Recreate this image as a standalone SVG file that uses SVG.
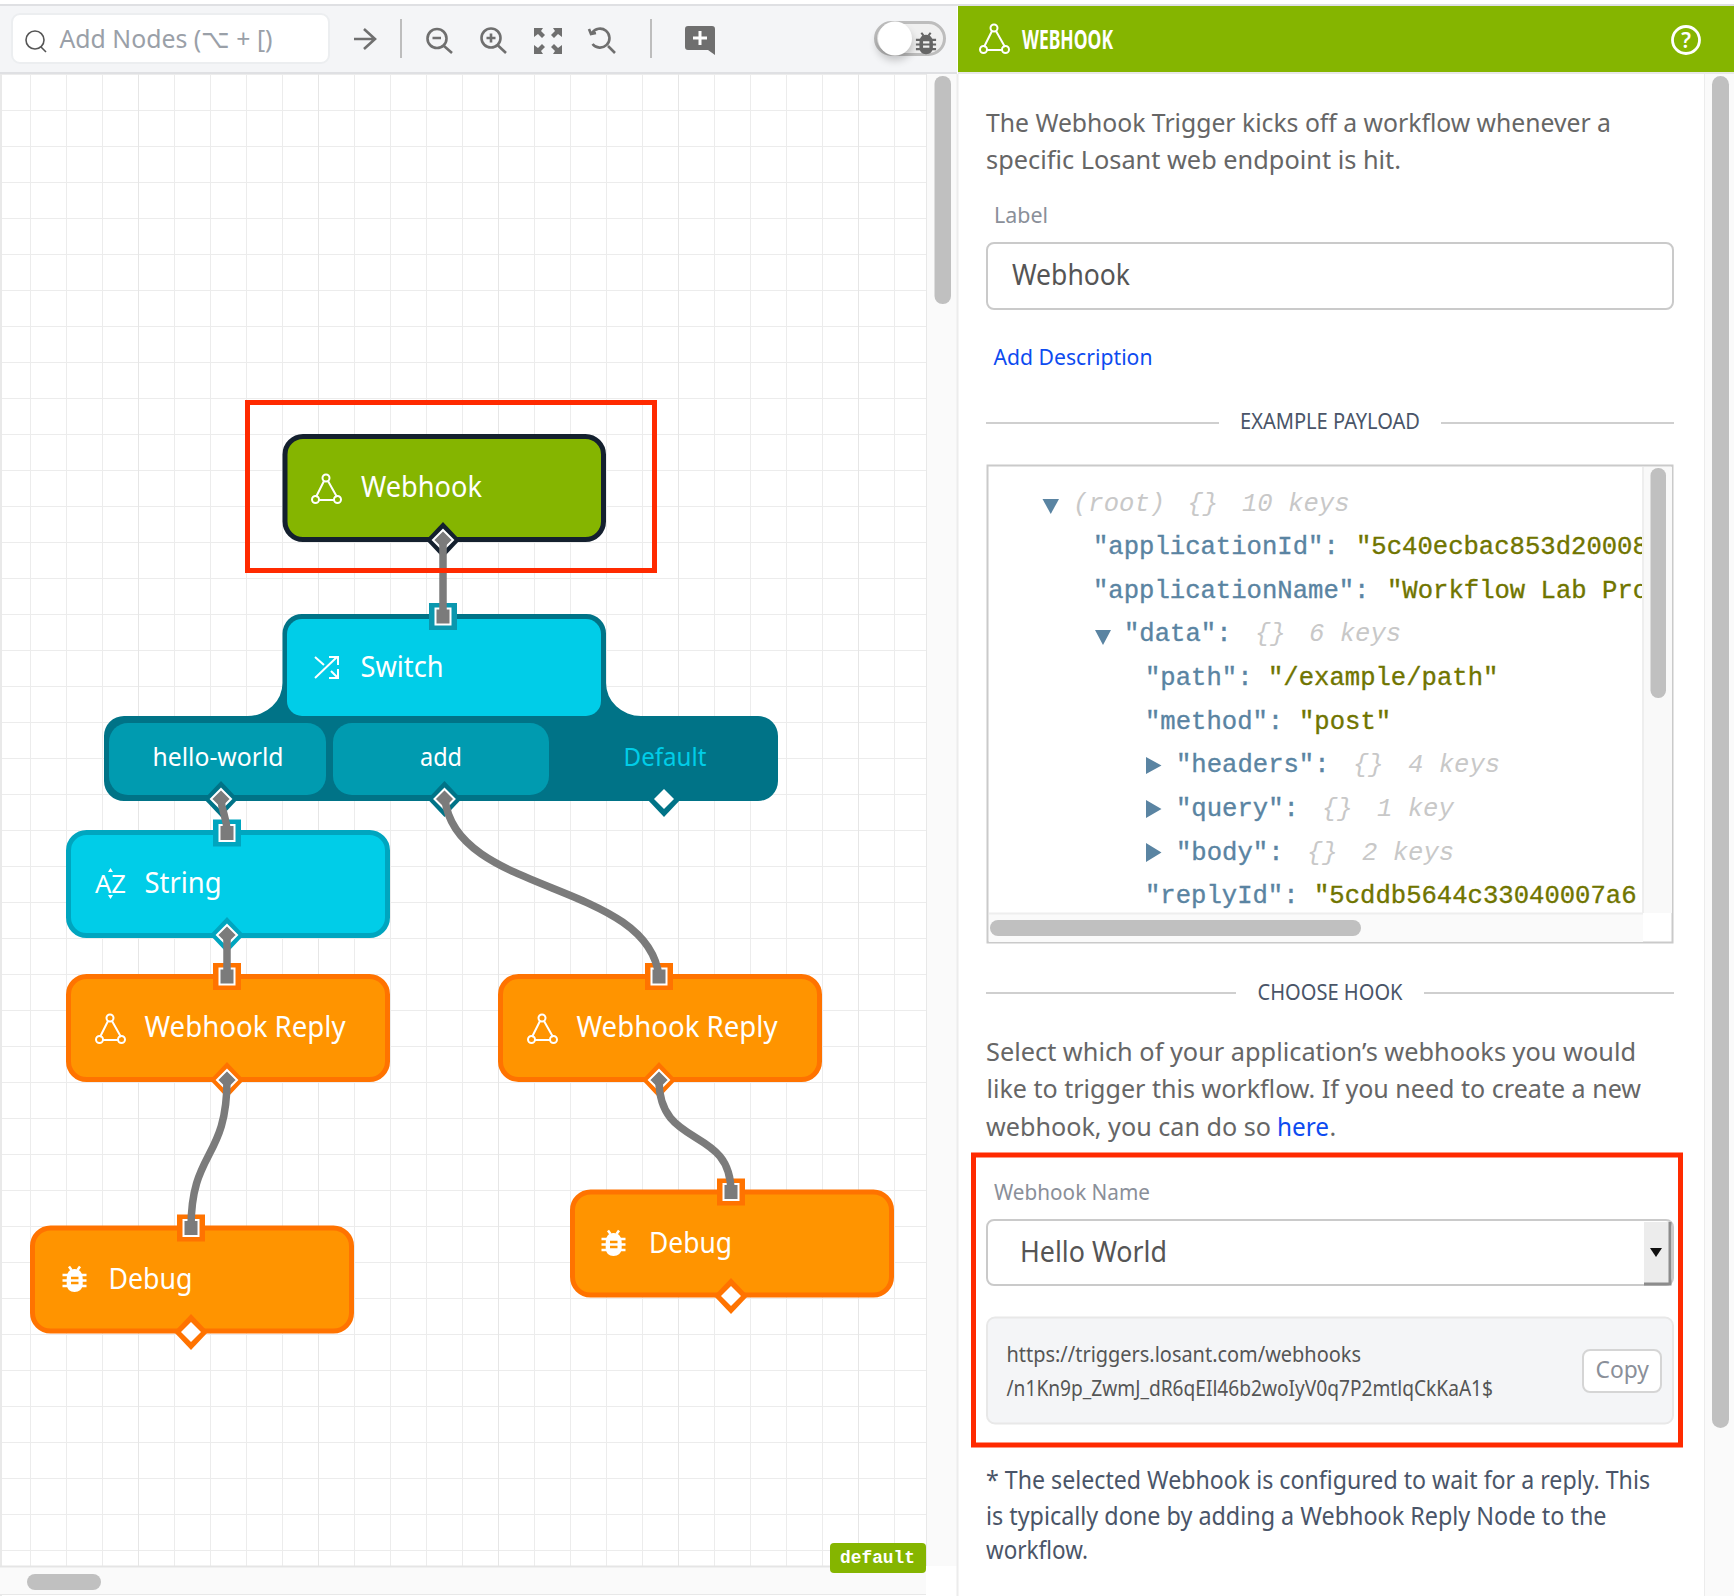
<svg xmlns="http://www.w3.org/2000/svg" xmlns:xlink="http://www.w3.org/1999/xlink" width="1734" height="1596" viewBox="0 0 1734 1596">
<style>
text{font-family:"Noto Sans","Open Sans",sans-serif}
.n{font-size:29px;fill:#fff}
.tab{font-size:25px;fill:#fff;text-anchor:middle}
.body{font-size:25px;fill:#666}
.foot{font-size:25px;fill:#4a5568}
.head{font-size:22.5px;fill:#4a5568}
.lab{font-size:22.5px;fill:#8a8f99}
.val{font-size:29px;fill:#555}
.url{font-size:21.5px;fill:#555}
.link{fill:#0d4bf0}
.rule{stroke:#cfcfcf;stroke-width:2}
.j{font-family:"Liberation Mono",monospace;font-size:25.6px;white-space:pre;stroke-width:.35px}
.k{fill:#5a84a2;stroke:#5a84a2}.v{fill:#707500;stroke:#707500}.m{fill:#c8c8c8;font-style:italic}
.tri{fill:#5a84a2}
.sb{fill:#c0c0c0}
.ic{fill:none;stroke:#6f6f6f;stroke-width:2.6}
.w{fill:none;stroke:#fff;stroke-width:2}
.conn{fill:none;stroke:#7b7b7b;stroke-width:7.5}
.portIn{fill:#7b7b7b;stroke:#fff;stroke-width:2}
.portOut{fill:#7b7b7b;stroke:#fff;stroke-width:2}
.free{fill:#fff}
.red{fill:none;stroke:#ff2a00;stroke-width:5}
.orange{fill:#ff9400;stroke:#ff7300;stroke-width:5}
.cyan{fill:#00cde8;stroke:#00a5bf;stroke-width:5}
</style>
<defs>
<pattern id="grid" patternUnits="userSpaceOnUse" x="138" y="110" width="180" height="36">
<path d="M0 .5H180" stroke="#ececec" fill="none"/>
<path d="M36.500 0V36M72.500 0V36M108.500 0V36M144.500 0V36" stroke="#ececec" fill="none"/>
<path d="M.5 0V36" stroke="#e6e6e6" fill="none"/>
</pattern>
<clipPath id="jc"><rect x="988" y="467" width="654" height="446"/></clipPath>
<filter id="sh" x="-50%" y="-50%" width="200%" height="200%"><feGaussianBlur stdDeviation="4"/></filter>
<g id="hook"><path class="w" d="M13 8 5 24M17 8 26 24M8 27H24"/><circle class="w" cx="15" cy="5" r="3.500"/><circle class="w" cx="4.500" cy="26.500" r="3.500"/><circle class="w" cx="26.500" cy="26.500" r="3.500"/></g>
<g id="bug">
<path d="M12.500 4C18 4 20.700 8 20.700 14V19C20.700 24 17 27 12.500 27S4.700 24 4.700 19V14C4.700 8 7 4 12.500 4Z" fill="#fff"/>
<path d="M.5 10H24.500M.5 15.500H24.500M.5 21H24.500" stroke="#fff" stroke-width="2.500"/>
<path d="M7 1.500 9.500 5M18 1.500 15.500 5" stroke="#fff" stroke-width="2.500"/>
<path d="M9 13H16.500M9 18H16.500" stroke="#ff9400" stroke-width="2.500"/>
</g>
<polygon id="dOut" points="0,-18 17,0 0,18 -17,0"/>
<polygon id="dIn" points="0,-10 10,0 0,10 -10,0"/>
<rect id="sqOut" x="-14" y="-13.500" width="28" height="27"/>
<rect id="sqIn" x="-7.500" y="-8" width="15" height="16"/>
</defs>

<rect width="1734" height="1596" fill="#fff"/>
<g id="canvas">
<rect x="2" y="74" width="924" height="1492" fill="#fff"/>
<rect x="2" y="74" width="924" height="1492" fill="url(#grid)"/>
<rect x="0" y="74" width="2" height="1522" fill="#e9e9e9"/>
<rect x="927" y="74" width="30" height="1492" fill="#fafafa"/>
<path d="M926.500 74V1566" stroke="#e8e8e8"/>
<rect class="sb" x="934.500" y="76" width="16.500" height="228" rx="8"/>
<rect x="0" y="1566" width="926" height="29" fill="#fafafa"/>
<path d="M0 1566.500H926" stroke="#e5e5e5" stroke-width="2"/>
<path d="M0 1594.500H926" stroke="#e8e8e8"/>
<rect class="sb" x="27" y="1574" width="74" height="16" rx="8"/>
<path d="M957.500 74V1596" stroke="#ececec" stroke-width="2"/>
</g>

<g id="toolbar">
<rect x="0" y="6" width="957" height="66" fill="#f4f5f7"/>
<rect x="0" y="4" width="1734" height="2" fill="#dfe0e3"/>
<rect x="0" y="72" width="957" height="2" fill="#dfe0e3"/>
<rect x="12" y="14" width="317" height="49" rx="8" fill="#fff" stroke="#eceef0" stroke-width="2"/>
<circle cx="35" cy="40" r="9" fill="none" stroke="#555" stroke-width="1.600"/><path d="M41 47 46 52" stroke="#555" stroke-width="1.600"/>
<text x="59.500" y="48" font-size="26" fill="#9aa0a8" textLength="213" lengthAdjust="spacingAndGlyphs">Add Nodes (⌥ + [)</text>
<path class="ic" d="M354 39H374M364 29 375 39 364 49"/>
<path d="M401 19V58M651 19V58" stroke="#bdbdbd" stroke-width="2"/>
<circle class="ic" cx="437" cy="38.500" r="9.500"/><path class="ic" d="M444 46 452 53M432.500 38H441"/>
<circle class="ic" cx="491" cy="38" r="9.500"/><path class="ic" d="M498 45.500 506 53M486.500 38H495.500M491 33.500V42.500"/>
<path d="M534 28H543L541 31 545 35 542 38 538 34 534 37ZM562 28H553L555 31 551 35 554 38 558 34 562 37ZM534 54H543L541 51 545 47 542 44 538 48 534 45ZM562 54H553L555 51 551 47 554 44 558 48 562 45Z" fill="#6f6f6f"/>
<path class="ic" d="M592 33A9.500 9.500 0 1 1 592.500 44M608 46 615 53M589 29 591 34 596 33"/>
<path d="M688 26H712A3 3 0 0 1 715 29V55L708 50H688A3 3 0 0 1 685 47V29A3 3 0 0 1 688 26Z" fill="#6f6f6f"/>
<path d="M700 31V45M693 38H707" stroke="#fff" stroke-width="3"/>
<rect x="875.500" y="22.500" width="69" height="32" rx="16" fill="#f0f0f0" stroke="#bdbdbd" stroke-width="3"/>
<ellipse cx="895" cy="44" rx="18" ry="16" fill="#000" opacity=".22" filter="url(#sh)"/>
<circle cx="895" cy="38.500" r="17" fill="#fff"/>
<g transform="translate(915.500 31.500) scale(.84)"><path d="M12.500 4C18 4 20.700 8 20.700 14V19C20.700 24 17 27 12.500 27S4.700 24 4.700 19V14C4.700 8 7 4 12.500 4Z" fill="#666"/><path d="M.5 10H24.500M.5 15.500H24.500M.5 21H24.500M7 1.500 9.500 5M18 1.500 15.500 5" stroke="#666" stroke-width="2.500"/><path d="M9 13H16.500M9 18H16.500" stroke="#f0f0f0" stroke-width="2.500"/></g>
</g>

<g id="node-webhook">
<rect x="285" y="436.500" width="318.500" height="103" rx="18" fill="#85b500" stroke="#14202e" stroke-width="5"/>
<use xlink:href="#hook" href="#hook" x="311" y="473"/>
<text class="n" x="361" y="497" textLength="121" lengthAdjust="spacingAndGlyphs">Webhook</text>
<g transform="translate(443 540)"><use href="#dOut" fill="#14202e"/><use href="#dIn" class="portOut"/></g>
</g>

<g id="node-switch">
<path d="M302.500 614H586.500A19.500 19.500 0 0 1 606 633.500V683A35 33 0 0 0 641 716H758A20 20 0 0 1 778 736V781A20 20 0 0 1 758 801H124A20 20 0 0 1 104 781V736A20 20 0 0 1 124 716H247.500A35 33 0 0 0 282.500 683V633.500A19.500 19.500 0 0 1 302.500 614Z" fill="#007387"/>
<rect x="287" y="619" width="314" height="97" rx="15" fill="#00cde8"/>
<rect x="109" y="723" width="217" height="72" rx="19" fill="#009bb0"/>
<rect x="333" y="723" width="216" height="72" rx="19" fill="#009bb0"/>
<path class="w" d="M315 678 337 657M329 657H338V665M315 657 324 665M331 671 338 678M338 669V678H329" stroke-width="2.800"/>
<text class="n" x="360.500" y="677" textLength="83" lengthAdjust="spacingAndGlyphs">Switch</text>
<text class="tab" x="218" y="766" textLength="131" lengthAdjust="spacingAndGlyphs">hello-world</text>
<text class="tab" x="441" y="766" textLength="42" lengthAdjust="spacingAndGlyphs">add</text>
<text class="tab" x="665" y="766" textLength="83" lengthAdjust="spacingAndGlyphs" style="fill:#00cde8">Default</text>
<g transform="translate(443 616.500)"><use href="#sqOut" fill="#0a97ae"/><use href="#sqIn" class="portIn"/></g>
<g transform="translate(221 799)"><use href="#dOut" fill="#007387"/><use href="#dIn" class="portOut"/></g>
<g transform="translate(444.500 799)"><use href="#dOut" fill="#007387"/><use href="#dIn" class="portOut"/></g>
<g transform="translate(664 799)"><use href="#dOut" fill="#007387"/><use href="#dIn" class="free"/></g>
</g>

<g id="node-string">
<rect class="cyan" x="68.500" y="832.500" width="319" height="103" rx="18"/>
<text x="95" y="893" font-size="25" fill="#fff" textLength="31" lengthAdjust="spacingAndGlyphs">AZ</text>
<path d="M108 872H113L110.500 868ZM108 895H113L110.500 899Z" fill="#fff"/>
<text class="n" x="144.500" y="893" textLength="77" lengthAdjust="spacingAndGlyphs">String</text>
<g transform="translate(227 833)"><use href="#sqOut" fill="#00a5bf"/><use href="#sqIn" class="portIn"/></g>
<g transform="translate(227 935)"><use href="#dOut" fill="#00a5bf"/><use href="#dIn" class="portOut"/></g>
</g>

<g id="node-reply-left">
<rect class="orange" x="68.500" y="976.500" width="319" height="103" rx="18"/>
<use href="#hook" x="95" y="1013"/>
<text class="n" x="144.500" y="1037" textLength="201" lengthAdjust="spacingAndGlyphs">Webhook Reply</text>
<g transform="translate(227 976.500)"><use href="#sqOut" fill="#ff7300"/><use href="#sqIn" class="portIn"/></g>
<g transform="translate(227 1080)"><use href="#dOut" fill="#ff7300"/><use href="#dIn" class="portOut"/></g>
</g>

<g id="node-reply-right">
<rect class="orange" x="500.500" y="976.500" width="319" height="103" rx="18"/>
<use href="#hook" x="527" y="1013"/>
<text class="n" x="576.500" y="1037" textLength="201" lengthAdjust="spacingAndGlyphs">Webhook Reply</text>
<g transform="translate(659 976.500)"><use href="#sqOut" fill="#ff7300"/><use href="#sqIn" class="portIn"/></g>
<g transform="translate(659 1080)"><use href="#dOut" fill="#ff7300"/><use href="#dIn" class="portOut"/></g>
</g>

<g id="node-debug-left">
<rect class="orange" x="32.500" y="1228" width="319" height="103" rx="18"/>
<use href="#bug" x="62" y="1265"/>
<text class="n" x="108.500" y="1289" textLength="84" lengthAdjust="spacingAndGlyphs">Debug</text>
<g transform="translate(191 1228)"><use href="#sqOut" fill="#ff7300"/><use href="#sqIn" class="portIn"/></g>
<g transform="translate(191 1332)"><use href="#dOut" fill="#ff7300"/><use href="#dIn" class="free"/></g>
</g>

<g id="node-debug-right">
<rect class="orange" x="572.500" y="1192" width="319" height="103" rx="18"/>
<use href="#bug" x="601" y="1229"/>
<text class="n" x="649" y="1253" textLength="83" lengthAdjust="spacingAndGlyphs">Debug</text>
<g transform="translate(731 1192)"><use href="#sqOut" fill="#ff7300"/><use href="#sqIn" class="portIn"/></g>
<g transform="translate(731 1296)"><use href="#dOut" fill="#ff7300"/><use href="#dIn" class="free"/></g>
</g>

<g id="connectors">
<path class="conn" d="M443 540V617"/>
<path class="conn" d="M221 799C222 815 227 815 227 833"/>
<path class="conn" d="M227 935V977"/>
<path class="conn" d="M445 799C455 895 649 881 659 977"/>
<path class="conn" d="M227 1080C227 1160 191 1150 191 1228"/>
<path class="conn" d="M659 1080C659 1150 731 1125 731 1192"/>
</g>

<g id="default-badge">
<rect x="830" y="1543" width="96" height="30" rx="4" fill="#85b500"/>
<text x="840" y="1563" font-size="17.500" fill="#fff" font-weight="bold" style="font-family:'Liberation Mono',monospace" textLength="75" lengthAdjust="spacingAndGlyphs">default</text>
</g>

<g id="panel">
<rect x="958" y="6" width="776" height="66" fill="#85b500"/>
<rect x="958" y="72" width="776" height="2" fill="#e8e8e8"/>
<rect x="1704" y="74" width="30" height="1522" fill="#fafafa"/>
<path d="M1704.500 74V1596" stroke="#ececec"/>
<rect class="sb" x="1712" y="76" width="17" height="1352" rx="8.500"/>
<use href="#hook" x="979" y="23"/>
<text x="1022" y="49" font-size="26" font-weight="700" fill="#fff" textLength="91" lengthAdjust="spacingAndGlyphs">WEBHOOK</text>
<circle class="w" cx="1686" cy="40" r="13.500" style="stroke-width:2.800"/>
<text x="1686" y="48" font-size="21" font-weight="600" fill="#fff" text-anchor="middle">?</text>

<text class="body" x="986" y="131.500" textLength="625" lengthAdjust="spacingAndGlyphs">The Webhook Trigger kicks off a workflow whenever a</text>
<text class="body" x="986" y="169" textLength="415" lengthAdjust="spacingAndGlyphs">specific Losant web endpoint is hit.</text>
<text class="lab" x="994" y="223" textLength="54" lengthAdjust="spacingAndGlyphs">Label</text>
<rect x="987" y="243" width="686" height="66" rx="7" fill="#fff" stroke="#cacaca" stroke-width="2"/>
<text class="val" x="1012" y="285" textLength="118" lengthAdjust="spacingAndGlyphs">Webhook</text>
<text class="lab link" x="993.500" y="365" textLength="159" lengthAdjust="spacingAndGlyphs">Add Description</text>
<path class="rule" d="M986 423H1219M1441 423H1674"/>
<text class="head" x="1240" y="429" textLength="180" lengthAdjust="spacingAndGlyphs">EXAMPLE PAYLOAD</text>

<g id="payload">
<rect x="987.500" y="465.500" width="685" height="477" fill="#fff" stroke="#cacaca" stroke-width="2"/>
<rect x="1643" y="467" width="29" height="446" fill="#f9f9f9"/>
<path d="M1643 467V913" stroke="#eee" stroke-width="2"/>
<rect x="989" y="913" width="654" height="29" fill="#fafafa"/>
<path d="M989 913.500H1643" stroke="#eee" stroke-width="2"/>
<rect class="sb" x="1650.500" y="468" width="15.500" height="230" rx="7.500"/>
<rect class="sb" x="990" y="920" width="371" height="16" rx="8"/>
<path class="tri" d="M1042.500 499H1059L1050.750 514Z"/>
<path class="tri" d="M1095 630H1111L1103 645Z"/>
<path class="tri" d="M1146 757 1161.500 765.500 1146 774ZM1146 800 1161.500 809 1146 818ZM1146 843 1161.500 852.500 1146 862Z"/>
<g clip-path="url(#jc)">
<text class="j m" x="1073" y="511">(root)</text><text class="j m" x="1187.500" y="511">{}</text><text class="j m" x="1242" y="511">10 keys</text>
<text class="j k" x="1093" y="554">"applicationId":</text><text class="j v" x="1356" y="554">"5c40ecbac853d20008</text>
<text class="j k" x="1093" y="598">"applicationName":</text><text class="j v" x="1387" y="598">"Workflow Lab Pro</text>
<text class="j k" x="1124" y="641">"data":</text><text class="j m" x="1255" y="641">{}</text><text class="j m" x="1309" y="641">6 keys</text>
<text class="j k" x="1145" y="685">"path":</text><text class="j v" x="1268" y="685">"/example/path"</text>
<text class="j k" x="1145" y="729">"method":</text><text class="j v" x="1299" y="729">"post"</text>
<text class="j k" x="1176" y="772">"headers":</text><text class="j m" x="1353" y="772">{}</text><text class="j m" x="1408" y="772">4 keys</text>
<text class="j k" x="1176" y="816">"query":</text><text class="j m" x="1322" y="816">{}</text><text class="j m" x="1377" y="816">1 key</text>
<text class="j k" x="1176" y="860">"body":</text><text class="j m" x="1307" y="860">{}</text><text class="j m" x="1362" y="860">2 keys</text>
<text class="j k" x="1145" y="903">"replyId":</text><text class="j v" x="1314" y="903">"5cddb5644c33040007a6</text>
</g>
</g>

<path class="rule" d="M986 993H1236M1424 993H1674"/>
<text class="head" x="1257.500" y="1000" textLength="145" lengthAdjust="spacingAndGlyphs">CHOOSE HOOK</text>
<text class="body" x="986" y="1061" textLength="650" lengthAdjust="spacingAndGlyphs">Select which of your application’s webhooks you would</text>
<text class="body" x="986.500" y="1098" textLength="654.500" lengthAdjust="spacingAndGlyphs">like to trigger this workflow. If you need to create a new</text>
<text class="body" x="986" y="1135.500" textLength="285" lengthAdjust="spacingAndGlyphs">webhook, you can do so</text>
<text class="body link" x="1277" y="1135.500" textLength="52" lengthAdjust="spacingAndGlyphs">here</text>
<text class="body" x="1329.500" y="1135.500">.</text>

<text class="lab" x="994" y="1199.500" textLength="156" lengthAdjust="spacingAndGlyphs">Webhook Name</text>
<rect x="987" y="1220" width="686" height="65" rx="7" fill="#fff" stroke="#cacaca" stroke-width="2"/>
<rect x="1644" y="1222" width="27" height="61" fill="#ececec"/>
<path d="M1670 1222V1284H1644" fill="none" stroke="#8c8c8c" stroke-width="3"/>
<path d="M1650 1248H1662L1656 1257Z" fill="#111"/>
<text class="val" x="1020" y="1262" textLength="147" lengthAdjust="spacingAndGlyphs">Hello World</text>
<rect x="987" y="1317.500" width="686" height="106" rx="8" fill="#f4f5f7" stroke="#e8e8e8" stroke-width="2"/>
<text class="url" x="1006.500" y="1362" textLength="354.500" lengthAdjust="spacingAndGlyphs">https://triggers.losant.com/webhooks</text>
<text class="url" x="1006.500" y="1396" textLength="486.500" lengthAdjust="spacingAndGlyphs">/n1Kn9p_ZwmJ_dR6qEIl46b2woIyV0q7P2mtlqCkKaA1$</text>
<rect x="1583" y="1350" width="78" height="42" rx="7" fill="#fff" stroke="#d5d5d5" stroke-width="2"/>
<text x="1595.500" y="1378" font-size="24" fill="#8a8f99" textLength="53.500" lengthAdjust="spacingAndGlyphs">Copy</text>

<text class="foot" x="986" y="1489" textLength="664" lengthAdjust="spacingAndGlyphs">* The selected Webhook is configured to wait for a reply. This</text>
<text class="foot" x="986" y="1524.500" textLength="620.500" lengthAdjust="spacingAndGlyphs">is typically done by adding a Webhook Reply Node to the</text>
<text class="foot" x="986" y="1559" textLength="102" lengthAdjust="spacingAndGlyphs">workflow.</text>
</g>

<g id="highlights">
<rect class="red" x="247.500" y="402.500" width="407" height="168"/>
<rect class="red" x="973.500" y="1155" width="707" height="290"/>
</g>
</svg>
